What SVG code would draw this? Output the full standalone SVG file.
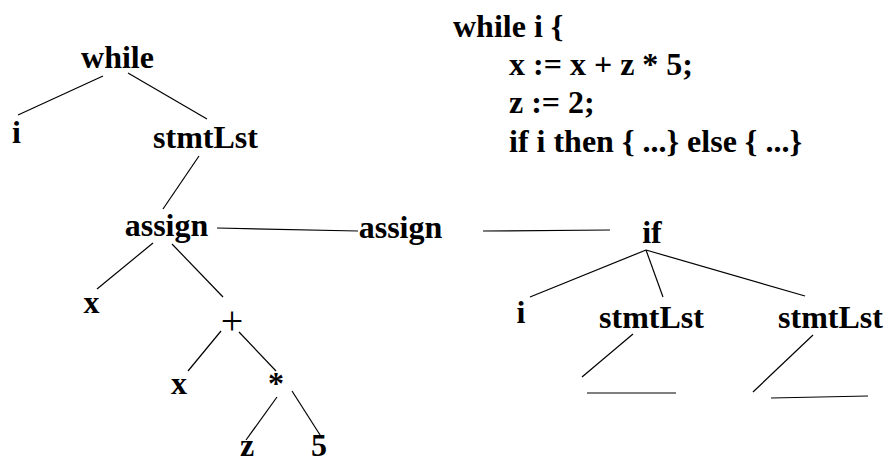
<svg xmlns="http://www.w3.org/2000/svg" width="889" height="464" viewBox="0 0 889 464">
<style>
text{font-family:"Liberation Serif","Times New Roman",serif;font-size:32px;font-weight:bold;fill:#000;text-anchor:middle}
.code{text-anchor:start}
.reg{font-weight:normal;font-size:40px}
line{stroke:#000;stroke-width:1.2}
</style>
<rect width="889" height="464" fill="#fff"/>
<g id="connectors">
<line x1="103" y1="76" x2="18" y2="115"/>
<line x1="128" y1="73" x2="207" y2="119"/>
<line x1="199" y1="156" x2="163" y2="209"/>
<line x1="217" y1="228" x2="358" y2="231"/>
<line x1="153" y1="243" x2="97" y2="289"/>
<line x1="172" y1="244" x2="223" y2="297"/>
<line x1="221" y1="331" x2="188" y2="371"/>
<line x1="239" y1="332" x2="276" y2="371"/>
<line x1="277" y1="397" x2="246" y2="440"/>
<line x1="292" y1="391" x2="322" y2="438"/>
<line x1="483" y1="231" x2="610" y2="230"/>
<line x1="646" y1="250" x2="530" y2="297"/>
<line x1="646" y1="250" x2="663" y2="297"/>
<line x1="646" y1="250" x2="805" y2="296"/>
<line x1="633" y1="334" x2="582" y2="377"/>
<line x1="587" y1="393" x2="676" y2="393"/>
<line x1="813" y1="335" x2="753" y2="392"/>
<line x1="771" y1="398" x2="868" y2="396"/>
</g>
<g id="n-while"><text x="117.5" y="68">while</text></g>
<g id="n-i"><text x="16.5" y="143">i</text></g>
<g id="n-stmtLst"><text x="205.5" y="148">stmtLst</text></g>
<g id="n-assign1"><text x="166.5" y="236">assign</text></g>
<g id="n-assign2"><text x="400.5" y="238">assign</text></g>
<g id="n-x1"><text x="91.5" y="313">x</text></g>
<g id="n-plus"><text class="reg" x="232" y="334">+</text></g>
<g id="n-x2"><text x="179" y="394">x</text></g>
<g id="n-times"><text x="276" y="394">*</text></g>
<g id="n-z"><text x="247" y="456">z</text></g>
<g id="n-5"><text x="319" y="456">5</text></g>
<g id="n-if"><text x="652" y="243">if</text></g>
<g id="n-if-i"><text x="521" y="323">i</text></g>
<g id="n-stmtLst2"><text x="651.5" y="328">stmtLst</text></g>
<g id="n-stmtLst3"><text x="830.5" y="328">stmtLst</text></g>
<g id="code">
<text class="code" x="453" y="37">while i {</text>
<text class="code" x="509" y="75">x := x + z * 5;</text>
<text class="code" x="509" y="113">z := 2;</text>
<text class="code" x="509" y="152">if i then { ...} else { ...}</text>
</g>
</svg>
